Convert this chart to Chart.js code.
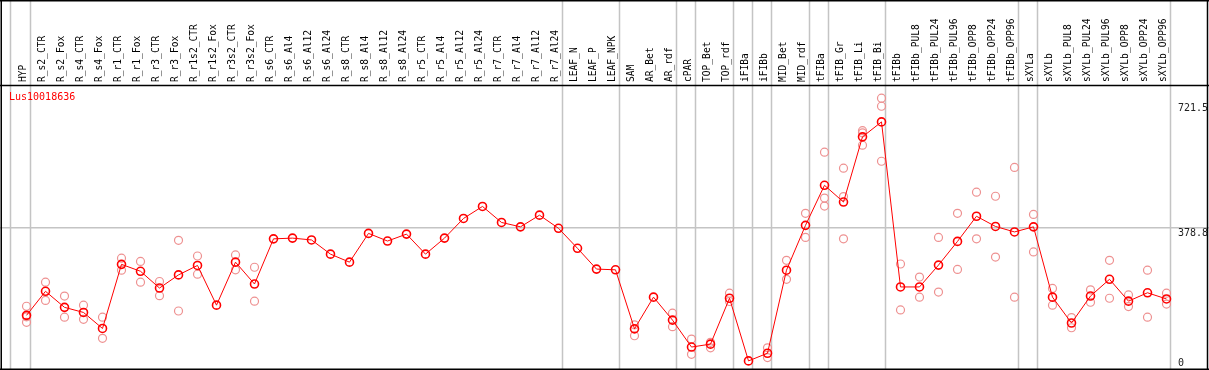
<!DOCTYPE html>
<html lang="en">
<head>
    <meta charset="UTF-8">
    <title>Lus10018636</title>
    <script src="https://cdn.jsdelivr.net/npm/chart.js"></script>
    <style>
        body {
            margin: 0;
            padding: 0;
            background: #fff;
        }
        .wrap {
            width: 1209px;
            height: 370px;
        }
    </style>
</head>
<body>
    <div class="wrap">
        <canvas id="geneChart" width="1209" height="370"></canvas>
    </div>

    <script>
        const geneName = 'Lus10018636';

        const samples = [
            'HYP', 'R_s2_CTR', 'R_s2_Fox', 'R_s4_CTR', 'R_s4_Fox', 'R_r1_CTR', 'R_r1_Fox',
            'R_r3_CTR', 'R_r3_Fox', 'R_r1s2_CTR', 'R_r1s2_Fox', 'R_r3s2_CTR', 'R_r3s2_Fox',
            'R_s6_CTR', 'R_s6_Al4', 'R_s6_Al12', 'R_s6_Al24', 'R_s8_CTR', 'R_s8_Al4',
            'R_s8_Al12', 'R_s8_Al24', 'R_r5_CTR', 'R_r5_Al4', 'R_r5_Al12', 'R_r5_Al24',
            'R_r7_CTR', 'R_r7_Al4', 'R_r7_Al12', 'R_r7_Al24', 'LEAF_N', 'LEAF_P', 'LEAF_NPK',
            'SAM', 'AR_Bet', 'AR_rdf', 'cPAR', 'TOP_Bet', 'TOP_rdf', 'iFIBa', 'iFIBb',
            'MID_Bet', 'MID_rdf', 'tFIBa', 'tFIB_Gr', 'tFIB_Li', 'tFIB_Bi', 'tFIBb',
            'tFIBb_PUL8', 'tFIBb_PUL24', 'tFIBb_PUL96', 'tFIBb_OPP8', 'tFIBb_OPP24',
            'tFIBb_OPP96', 'sXYLa', 'sXYLb', 'sXYLb_PUL8', 'sXYLb_PUL24', 'sXYLb_PUL96',
            'sXYLb_OPP8', 'sXYLb_OPP24', 'sXYLb_OPP96'
        ];

        // mean expression per sample
        const means = [
            139, 205, 161, 147, 103, 279, 260, 214, 250, 276, 167, 285, 225,
            349, 351, 346, 307, 285, 364, 343, 362, 307, 351, 405, 438,
            394, 382, 414, 378, 323, 266, 264,
            102, 189, 126, 52, 60, 186, 14, 35, 263, 386,
            496, 450, 629, 670,
            217, 217, 277, 342, 411, 383, 368,
            382, 189, 118, 192, 238, 178, 201, 184
        ];

        // individual replicates (null = not visible / hidden behind mean)
        const rep1 = [
            164, 230, 192, 167, 134, 296, 287, 232, 345, 302, null, 305, 271,
            null, null, null, null, null, null, null, null, null, null, null, null,
            null, null, null, null, null, null, null,
            113, null, 145, 74, 65, 200, null, 50, 290, 419,
            587, 543, 646, 735,
            280, 244, 353, 419, 477, 466, 545,
            416, 213, 133, 209, 290, 195, 263, 200
        ];
        const rep2 = [
            135, 180, 134, 128, 76, 263, 230, 193, 151, 252, null, 264, 178,
            null, null, null, null, null, null, null, null, null, null, null, null,
            null, null, null, null, null, null, null,
            83, null, 108, 32, 50, 177, null, 23, 238, 353,
            461, 465, 606, 713,
            154, 189, 203, 265, 349, 299, 189,
            313, 167, 105, 175, 186, 163, 134, 170
        ];
        const rep3 = [
            120, null, null, null, null, null, null, null, null, null, null, null, null,
            null, null, null, null, null, null, null, null, null, null, null, null,
            null, null, null, null, null, null, null,
            null, null, null, null, null, null, null, null, null, null,
            439, 349, 640, 562,
            null, null, null, null, null, null, null,
            null, null, null, null, null, null, null, null
        ];

        // last sample index of each group (separator drawn after it)
        const groupEnds = [-1.06, 0, 28, 31, 34, 35, 37, 38, 39, 41, 42, 45, 52, 53, 60];

        const yTicks = [0, 378.8, 721.5];

        const toPoints = arr => arr.map((v, i) => ({ x: i, y: v })).filter(p => p.y !== null);

        const repColor = 'rgb(238,145,145)';
        const repStyle = {
            showLine: false,
            pointRadius: 4,
            pointBorderWidth: 1.2,
            pointBorderColor: repColor,
            pointBackgroundColor: 'transparent',
            borderColor: repColor
        };

        const framePlugin = {
            id: 'frame',
            beforeDatasetsDraw(chart) {
                const ctx = chart.ctx;
                const x = chart.scales.x;
                ctx.save();
                ctx.strokeStyle = '#c4c4c4';
                ctx.lineWidth = 1.5;
                groupEnds.forEach(g => {
                    const px = Math.round(x.getPixelForValue(g + 0.21)) + 0.5;
                    ctx.beginPath();
                    ctx.moveTo(px, 0);
                    ctx.lineTo(px, chart.height);
                    ctx.stroke();
                });
                ctx.restore();
            },
            afterDraw(chart) {
                const ctx = chart.ctx;
                const y = chart.scales.y;
                const area = chart.chartArea;
                ctx.save();
                // frame lines
                ctx.strokeStyle = '#000';
                ctx.lineWidth = 1.5;
                ctx.beginPath();
                ctx.moveTo(0, 0.75); ctx.lineTo(chart.width, 0.75);
                ctx.moveTo(0, 85.5); ctx.lineTo(chart.width, 85.5);
                ctx.moveTo(1.25, 0); ctx.lineTo(1.25, 370);
                ctx.moveTo(1207.5, 0); ctx.lineTo(1207.5, 370);
                ctx.moveTo(0, 369.25); ctx.lineTo(chart.width, 369.25);
                ctx.stroke();

                // gene label
                ctx.fillStyle = '#ff0000';
                ctx.font = '10px "DejaVu Sans Mono"';
                ctx.textBaseline = 'middle';
                ctx.textAlign = 'left';
                ctx.fillText(geneName, 9, 97);

                // value labels from the y scale
                ctx.fillStyle = '#222';
                ctx.textBaseline = 'top';
                y.ticks.forEach(t => {
                    let py = y.getPixelForValue(t.value);
                    py = Math.min(py, area.bottom - 12);
                    ctx.fillText(String(t.value), 1178, py);
                });
                ctx.restore();
            }
        };

        new Chart(document.getElementById('geneChart'), {
            type: 'line',
            data: {
                datasets: [
                    {
                        label: geneName,
                        data: toPoints(means),
                        borderColor: '#ff0000',
                        borderWidth: 1,
                        tension: 0,
                        pointRadius: 4,
                        pointBorderWidth: 1.6,
                        pointBorderColor: '#ff0000',
                        pointBackgroundColor: 'transparent'
                    },
                    Object.assign({ data: toPoints(rep1) }, repStyle),
                    Object.assign({ data: toPoints(rep2) }, repStyle),
                    Object.assign({ data: toPoints(rep3) }, repStyle)
                ]
            },
            options: {
                responsive: false,
                animation: false,
                events: [],
                layout: { padding: 0, autoPadding: false },
                plugins: {
                    legend: { display: false },
                    tooltip: { enabled: false }
                },
                scales: {
                    x: {
                        type: 'linear',
                        position: 'top',
                        min: -1.395,
                        max: 62.237,
                        afterBuildTicks: s => { s.ticks = samples.map((_, i) => ({ value: i })); },
                        afterFit: s => {
                            s.height = 85;
                            s.paddingLeft = 0;
                            s.paddingRight = 0;
                        },
                        grid: { display: false, drawTicks: false },
                        border: { display: false },
                        ticks: {
                            autoSkip: false,
                            minRotation: 90,
                            maxRotation: 90,
                            padding: 3,
                            labelOffset: 8.5,
                            color: '#000',
                            font: { family: 'DejaVu Sans Mono', size: 9.6 },
                            callback: v => samples[v]
                        }
                    },
                    y: {
                        type: 'linear',
                        position: 'right',
                        min: -10.98,
                        max: 771.3,
                        afterBuildTicks: s => { s.ticks = yTicks.map(v => ({ value: v })); },
                        afterFit: s => {
                            s.width = 0;
                            s.paddingTop = 0;
                            s.paddingBottom = 0;
                        },
                        border: { display: false },
                        grid: {
                            drawTicks: false,
                            lineWidth: 1.5,
                            color: c => (c.tick && c.tick.value === 378.8) ? '#c4c4c4' : 'transparent'
                        },
                        ticks: { display: false }
                    }
                }
            },
            plugins: [framePlugin]
        });
    </script>
</body>
</html>
